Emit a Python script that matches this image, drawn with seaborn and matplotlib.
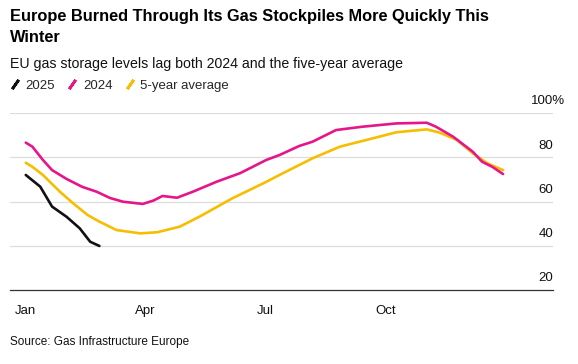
import pandas as pd
import matplotlib
matplotlib.use("Agg")
import matplotlib.pyplot as plt
import matplotlib.transforms as mtransforms
import seaborn as sns
from matplotlib.lines import Line2D

# Datos (dia del año, % de almacenamiento)
dias_2025 = [0, 11, 20, 31, 41, 49, 56]
valores_2025 = [72.0, 66.7, 57.7, 53.1, 47.9, 41.8, 39.9]

dias_2024 = [0, 5, 13, 20, 31, 43, 54, 64, 74, 89, 97, 104, 115, 127, 145, 163,
             183, 193, 208, 218, 236, 256, 282, 305, 312, 325, 340, 347, 355, 363]
valores_2024 = [86.6, 84.8, 78.8, 74.2, 70.2, 66.6, 64.4, 61.6, 59.9, 58.9, 60.4, 62.5,
                61.7, 64.4, 68.9, 72.8, 78.8, 81.0, 85.1, 87.0, 92.3, 93.8, 95.3, 95.6,
                93.8, 89.3, 82.5, 78.0, 75.6, 72.4]

dias_prom = [0, 5, 13, 26, 36, 47, 56, 69, 87, 100, 117, 132, 157, 183,
             193, 218, 239, 259, 282, 305, 315, 328, 340, 351, 363]
valores_prom = [77.5, 75.7, 72.0, 64.4, 59.2, 53.9, 50.9, 47.1, 45.6, 46.1, 48.6, 53.1,
                61.4, 68.9, 72.0, 79.5, 84.8, 87.8, 91.3, 92.6, 91.1, 87.8, 81.8, 77.3, 74.2]

series = ["2025", "2024", "5-year average"]
colores = {"2025": "#111111", "2024": "#E5168A", "5-year average": "#F6BE00"}

df = pd.concat([
    pd.DataFrame({"dia": dias_prom, "valor": valores_prom, "serie": "5-year average"}),
    pd.DataFrame({"dia": dias_2024, "valor": valores_2024, "serie": "2024"}),
    pd.DataFrame({"dia": dias_2025, "valor": valores_2025, "serie": "2025"}),
])

meses = ["Jan", "Apr", "Jul", "Oct"]
pos_meses = [pd.Timestamp(f"2024-{m}-01").dayofyear - 1 for m in ["01", "04", "07", "10"]]
y_ticks = [20, 40, 60, 80, 100]

sns.set_theme(style="white")
plt.rcParams['font.family'] = ['Liberation Sans', 'DejaVu Sans']

fig = plt.figure(figsize=(5.78, 3.64), dpi=100)
ax = fig.add_axes([10 / 578, 1 - 290 / 364, 543 / 578, 177 / 364])

sns.lineplot(data=df, x="dia", y="valor", hue="serie", palette=colores,
             hue_order=["5-year average", "2024", "2025"], linewidth=1.9,
             legend=False, ax=ax)

ax.set_xlim(-12, 401)
ax.set_ylim(20, 100)
ax.set_xlabel("")
ax.set_ylabel("")
for s in ["top", "right", "left"]:
    ax.spines[s].set_visible(False)
ax.spines["bottom"].set_color("#333333")
ax.spines["bottom"].set_linewidth(0.9)

for y in y_ticks[1:]:
    ax.axhline(y, color="#dddddd", linewidth=0.9, zorder=0)

ax.set_xticks(pos_meses)
ax.set_xticklabels(meses, fontsize=9.5, color="#111111")
ax.tick_params(axis="x", length=4, width=0.9, color="#333333", pad=7)
ax.set_yticks([])

# etiquetas del eje y, sobre las lineas de la cuadricula; el % sobresale a la derecha
trans_y = ax.get_yaxis_transform()
trans_pct = mtransforms.offset_copy(trans_y, fig=fig, x=8.4, units="points")
for y in y_ticks:
    if y == 100:
        ax.text(1.0, y + 2.5, f"{y}%", transform=trans_pct,
                ha="right", va="bottom", fontsize=9.5, color="#111111")
    else:
        ax.text(1.0, y + 2.5, str(y), transform=trans_y,
                ha="right", va="bottom", fontsize=9.5, color="#111111")

fig.text(10 / 578, 1 - 9 / 364, "Europe Burned Through Its Gas Stockpiles More Quickly This\nWinter",
         fontsize=11.8, fontweight="bold", color="#000000", va="top", linespacing=1.5)
fig.text(10 / 578, 1 - 68 / 364, "EU gas storage levels lag both 2024 and the five-year average",
         fontsize=10.2, color="#111111", va="baseline")

handles = [Line2D([], [], linestyle="none", marker=(2, 2, -35), markersize=8,
                  markeredgewidth=2, color=colores[s]) for s in series]
fig.legend(handles, series, loc="center left", bbox_to_anchor=(2 / 578, 1 - 86 / 364),
           ncol=3, frameon=False, fontsize=9.5, handlelength=1.0, handletextpad=0.3,
           columnspacing=0.8, borderpad=0)

fig.text(10 / 578, 1 - 345 / 364, "Source: Gas Infrastructure Europe",
         fontsize=8.5, color="#111111", va="baseline")

fig.savefig("out.png", dpi=100, facecolor="white")
